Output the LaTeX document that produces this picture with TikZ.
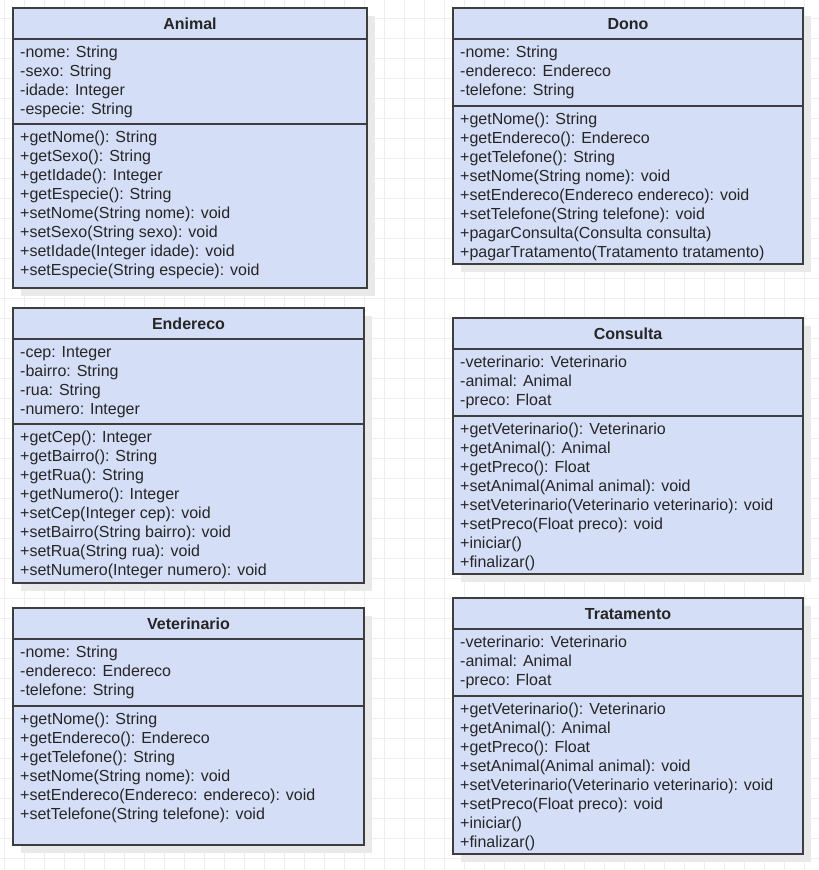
\documentclass[tikz,border=0pt]{standalone}
\usepackage{fontspec}
\setmainfont{Liberation Sans}
\definecolor{boxfill}{RGB}{213,222,247}
\definecolor{boxline}{RGB}{62,62,62}
\definecolor{gridc}{RGB}{238,238,238}
\definecolor{shadowc}{RGB}{233,233,233}
\definecolor{txt}{RGB}{38,38,38}
\tikzset{
  umltext/.style={anchor=base west, inner sep=0pt, font=\fontsize{16}{19}\selectfont, text=txt},
  umltitle/.style={anchor=base, inner sep=0pt, font=\fontsize{16}{19}\selectfont\bfseries, text=txt},
  boxframe/.style={draw=boxline, line width=1.5pt, fill=boxfill, inner sep=0pt, outer sep=0pt, anchor=north west},
  boxshadow/.style={fill=shadowc},
  divline/.style={draw=boxline, line width=1.5pt},
  gridline/.style={draw=gridc, line width=1pt},
}
% name, title, x1, y1, x2, y2, header y, divider y
\newcommand{\umlclass}[8]{%
  \fill[boxshadow] (#3+8,#4+8) rectangle (#5+8,#6+8);
  \node[boxframe, minimum width=#5-#3, minimum height=#6-#4] (#1) at (#3,#4) {};
  \node[umltitle] (#1-title) at ({(#3+#5)/2},#4+21.5) {#2};
  \draw[divline] (#1.west |- 0,#7) -- (#1.east |- 0,#7);
  \draw[divline] (#1.west |- 0,#8) -- (#1.east |- 0,#8);
}
% name prefix, box left x, section top y, list of lines
\newcommand{\umllines}[4]{%
  \foreach \t [count=\i] in {#4} {
    \node[umltext] (#1\i) at (#2+7,{#3+18+19*(\i-1)}) {\t};
  }
}
\begin{document}
\begin{tikzpicture}[x=1pt,y=-1pt]
\useasboundingbox (0,0) rectangle (819,870);
\fill[white] (0,0) rectangle (819,870);
\foreach \gx in {4,24,...,804} \draw[gridline] (\gx,0) -- (\gx,870);
\foreach \gy in {18,38,...,858} \draw[gridline] (0,\gy) -- (819,\gy);

% Animal
\umlclass{animal}{Animal}{13}{8}{367}{288}{39}{124}
\umllines{animal-a}{13}{39}{{-nome: String},{-sexo: String},{-idade: Integer},{-especie: String}}
\umllines{animal-m}{13}{124}{{+getNome(): String},{+getSexo(): String},{+getIdade(): Integer},{+getEspecie(): String},{+setNome(String nome): void},{+setSexo(String sexo): void},{+setIdade(Integer idade): void},{+setEspecie(String especie): void}}

% Dono
\umlclass{dono}{Dono}{453}{8}{803}{264}{39}{106}
\umllines{dono-a}{453}{39}{{-nome: String},{-endereco: Endereco},{-telefone: String}}
\umllines{dono-m}{453}{106}{{+getNome(): String},{+getEndereco(): Endereco},{+getTelefone(): String},{+setNome(String nome): void},{+setEndereco(Endereco endereco): void},{+setTelefone(String telefone): void},{+pagarConsulta(Consulta consulta)},{+pagarTratamento(Tratamento tratamento)}}

% Endereco
\umlclass{endereco}{Endereco}{13}{308}{364}{583}{339}{424}
\umllines{endereco-a}{13}{339}{{-cep: Integer},{-bairro: String},{-rua: String},{-numero: Integer}}
\umllines{endereco-m}{13}{424}{{+getCep(): Integer},{+getBairro(): String},{+getRua(): String},{+getNumero(): Integer},{+setCep(Integer cep): void},{+setBairro(String bairro): void},{+setRua(String rua): void},{+setNumero(Integer numero): void}}

% Consulta
\umlclass{consulta}{Consulta}{453}{318}{803}{574}{349}{416}
\umllines{consulta-a}{453}{349}{{-veterinario: Veterinario},{-animal: Animal},{-preco: Float}}
\umllines{consulta-m}{453}{416}{{+getVeterinario(): Veterinario},{+getAnimal(): Animal},{+getPreco(): Float},{+setAnimal(Animal animal): void},{+setVeterinario(Veterinario veterinario): void},{+setPreco(Float preco): void},{+iniciar()},{+finalizar()}}

% Veterinario
\umlclass{veterinario}{Veterinario}{13}{608}{364}{845}{639}{706}
\umllines{veterinario-a}{13}{639}{{-nome: String},{-endereco: Endereco},{-telefone: String}}
\umllines{veterinario-m}{13}{706}{{+getNome(): String},{+getEndereco(): Endereco},{+getTelefone(): String},{+setNome(String nome): void},{+setEndereco(Endereco: endereco): void},{+setTelefone(String telefone): void}}

% Tratamento
\umlclass{tratamento}{Tratamento}{453}{598}{803}{854}{629}{696}
\umllines{tratamento-a}{453}{629}{{-veterinario: Veterinario},{-animal: Animal},{-preco: Float}}
\umllines{tratamento-m}{453}{696}{{+getVeterinario(): Veterinario},{+getAnimal(): Animal},{+getPreco(): Float},{+setAnimal(Animal animal): void},{+setVeterinario(Veterinario veterinario): void},{+setPreco(Float preco): void},{+iniciar()},{+finalizar()}}
\end{tikzpicture}
\end{document}
